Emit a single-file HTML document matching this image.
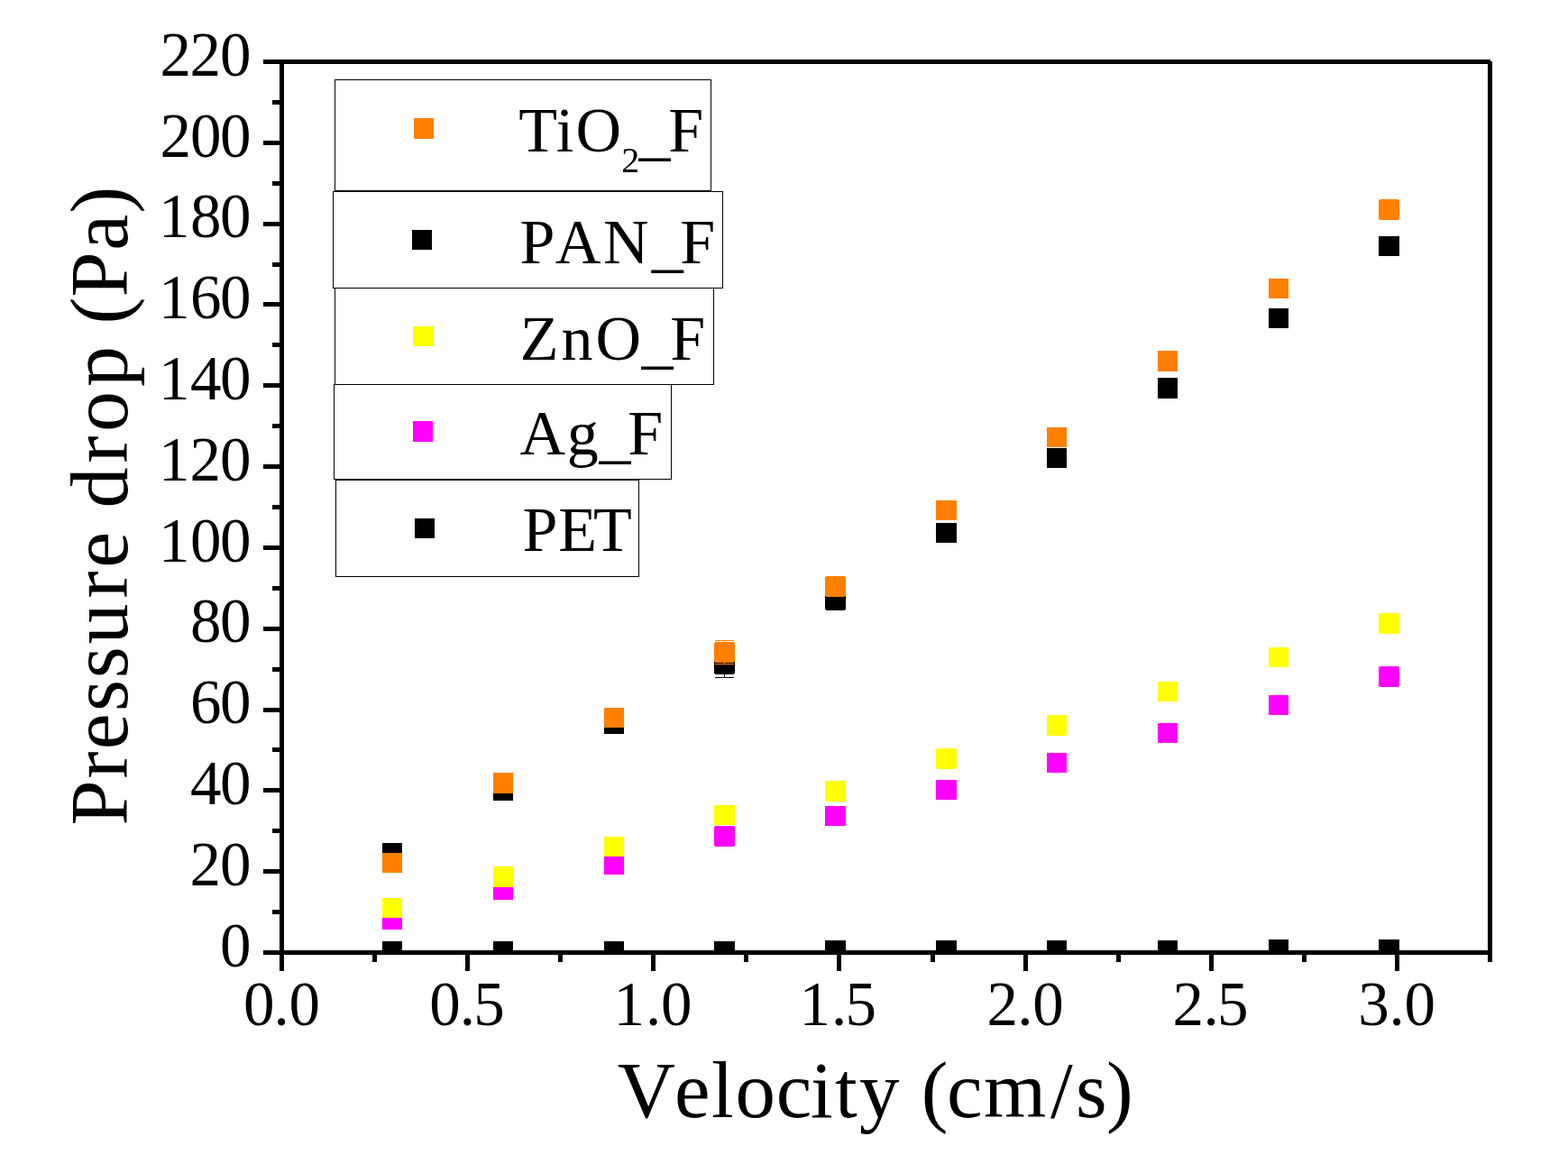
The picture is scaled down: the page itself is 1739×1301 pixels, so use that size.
<!DOCTYPE html>
<html lang="en"><head><meta charset="utf-8"><title>Pressure drop vs. Velocity</title>
<style>
html,body{margin:0;padding:0;background:#fff;}
body{width:1739px;height:1301px;overflow:hidden;}
svg{display:block;}
text{font-family:"Liberation Serif", "DejaVu Serif", serif;fill:#000;font-kerning:none;}
.ax{fill:#000;shape-rendering:crispEdges;}
.mk{shape-rendering:crispEdges;}
.lg{fill:#fff;stroke:#000;stroke-width:1;shape-rendering:crispEdges;}
</style></head><body>
<svg width="1739" height="1301" viewBox="0 0 1739 1301">
<rect x="0" y="0" width="1739" height="1301" fill="#fff"/>
<g id="legend-boxes">
<rect class="lg" x="371.5" y="88.5" width="417" height="123"/>
<rect class="lg" x="369.5" y="212.5" width="432" height="107"/>
<rect class="lg" x="371.5" y="319.5" width="420" height="107"/>
<rect class="lg" x="370.5" y="426.5" width="374" height="105"/>
<rect class="lg" x="372.5" y="532.5" width="336" height="107"/>
</g>
<g id="series-PET" class="mk" fill="#000000">
<rect x="424" y="1044" width="22" height="12"/>
<rect x="547" y="1044" width="22" height="12"/>
<rect x="670" y="1044" width="22" height="12"/>
<rect x="792" y="1044" width="23" height="12"/>
<rect x="915" y="1043" width="23" height="13"/>
<rect x="1038" y="1043" width="23" height="13"/>
<rect x="1161" y="1043" width="22" height="13"/>
<rect x="1284" y="1043" width="22" height="13"/>
<rect x="1407" y="1042" width="22" height="14"/>
<rect x="1529" y="1042" width="23" height="14"/>
</g>
<g id="series-Ag" class="mk" fill="#ff00ff">
<rect x="424" y="1009" width="22" height="22"/>
<rect x="547" y="976" width="22" height="22"/>
<rect x="670" y="948" width="22" height="22"/>
<path d="M793 916h21v1h1v21h-1v1h-21v-1h-1v-21h1z"/>
<rect x="915" y="894" width="23" height="22"/>
<rect x="1038" y="865" width="23" height="22"/>
<rect x="1161" y="835" width="22" height="22"/>
<rect x="1284" y="802" width="22" height="22"/>
<rect x="1407" y="771" width="22" height="22"/>
<path d="M1530 739h21v1h1v21h-1v1h-21v-1h-1v-21h1z"/>
</g>
<g id="series-ZnO" class="mk" fill="#ffff00">
<rect x="424" y="996" width="22" height="22"/>
<rect x="547" y="961" width="22" height="23"/>
<rect x="670" y="928" width="22" height="22"/>
<rect x="792" y="893" width="23" height="22"/>
<path d="M916 866h21v1h1v21h-1v1h-21v-1h-1v-21h1z"/>
<path d="M1039 830h21v1h1v21h-1v1h-21v-1h-1v-21h1z"/>
<rect x="1161" y="793" width="22" height="23"/>
<rect x="1284" y="756" width="22" height="22"/>
<rect x="1407" y="718" width="22" height="22"/>
<path d="M1530 680h21v1h1v21h-1v1h-21v-1h-1v-21h1z"/>
</g>
<g id="series-PAN" class="mk" fill="#000000">
<rect x="424" y="935" width="22" height="22"/>
<rect x="547" y="866" width="22" height="22"/>
<rect x="670" y="792" width="22" height="22"/>
<rect x="803" y="721" width="1" height="31"/><rect x="793" y="751" width="21" height="1"/><rect x="793" y="721" width="21" height="1"/>
<path d="M793 725h21v1h1v21h-1v1h-21v-1h-1v-21h1z"/>
<path d="M916 654h21v1h1v21h-1v1h-21v-1h-1v-21h1z"/>
<rect x="1038" y="580" width="23" height="22"/>
<rect x="1161" y="497" width="22" height="22"/>
<rect x="1284" y="419" width="22" height="23"/>
<rect x="1407" y="342" width="22" height="22"/>
<rect x="1529" y="262" width="23" height="22"/>
</g>
<g id="series-TiO2" class="mk" fill="#ff8000">
<rect x="424" y="946" width="22" height="22"/>
<rect x="547" y="857" width="22" height="23"/>
<rect x="670" y="785" width="22" height="22"/>
<rect x="803" y="710" width="1" height="27"/><rect x="793" y="710" width="21" height="1"/>
<path d="M793 712h21v1h1v21h-1v1h-21v-1h-1v-21h1z"/>
<rect x="792" y="735" width="23" height="1" fill="#000"/><rect x="803" y="735" width="1" height="1"/><rect x="793" y="736" width="21" height="1"/>
<path d="M916 639h21v1h1v21h-1v1h-21v-1h-1v-21h1z"/>
<rect x="1038" y="555" width="23" height="22"/>
<rect x="1161" y="474" width="22" height="22"/>
<rect x="1284" y="389" width="22" height="23"/>
<rect x="1407" y="309" width="22" height="22"/>
<path d="M1530 221h21v1h1v21h-1v1h-21v-1h-1v-21h1z"/>
</g>
<g id="axes" class="ax">
<rect x="292" y="66" width="1361" height="5"/>
<rect x="292" y="1054" width="1363" height="5"/>
<rect x="310" y="66" width="5" height="1011"/>
<rect x="1650" y="68" width="5" height="999"/>
<rect x="302" y="1009" width="8" height="5"/>
<rect x="292" y="964" width="18" height="5"/>
<rect x="302" y="919" width="8" height="5"/>
<rect x="292" y="874" width="18" height="5"/>
<rect x="302" y="829" width="8" height="5"/>
<rect x="292" y="785" width="18" height="5"/>
<rect x="302" y="740" width="8" height="5"/>
<rect x="292" y="695" width="18" height="5"/>
<rect x="302" y="650" width="8" height="5"/>
<rect x="292" y="605" width="18" height="5"/>
<rect x="302" y="560" width="8" height="5"/>
<rect x="292" y="515" width="18" height="5"/>
<rect x="302" y="470" width="8" height="5"/>
<rect x="292" y="425" width="18" height="5"/>
<rect x="302" y="380" width="8" height="5"/>
<rect x="292" y="335" width="18" height="5"/>
<rect x="302" y="291" width="8" height="5"/>
<rect x="292" y="246" width="18" height="5"/>
<rect x="302" y="201" width="8" height="5"/>
<rect x="292" y="156" width="18" height="5"/>
<rect x="302" y="111" width="8" height="5"/>
<rect x="413" y="1059" width="5" height="8"/>
<rect x="516" y="1059" width="5" height="18"/>
<rect x="619" y="1059" width="5" height="8"/>
<rect x="722" y="1059" width="5" height="18"/>
<rect x="825" y="1059" width="5" height="8"/>
<rect x="928" y="1059" width="5" height="18"/>
<rect x="1032" y="1059" width="5" height="8"/>
<rect x="1135" y="1059" width="5" height="18"/>
<rect x="1238" y="1059" width="5" height="8"/>
<rect x="1341" y="1059" width="5" height="18"/>
<rect x="1444" y="1059" width="5" height="8"/>
<rect x="1547" y="1059" width="5" height="18"/>
</g>
<g id="y-tick-labels" font-size="69">
<text x="244" y="1071.7">0</text>
<text x="210.6 244" y="981.9">20</text>
<text x="211 244" y="892.1">40</text>
<text x="211 244" y="802.2">60</text>
<text x="211 244" y="712.4">80</text>
<text x="176 211 244" y="622.6">100</text>
<text x="176 210.6 244" y="532.8">120</text>
<text x="176 211 244" y="443">140</text>
<text x="176 211 244" y="353.2">160</text>
<text x="176 211 244" y="263.3">180</text>
<text x="177.6 211 244" y="173.5">200</text>
<text x="177.6 210.6 244" y="83.7">220</text>
</g>
<g id="x-tick-labels" font-size="69">
<text x="270.1 303.5 320.6" y="1137.2">0.0</text>
<text x="476.3 509.7 525.3" y="1137.2">0.5</text>
<text x="680.4 715.9 732.9" y="1137.2">1.0</text>
<text x="886.6 922 937.6" y="1137.2">1.5</text>
<text x="1094.4 1128.2 1145.3" y="1137.2">2.0</text>
<text x="1300.5 1334.4 1349.9" y="1137.2">2.5</text>
<text x="1506.3 1540.5 1557.6" y="1137.2">3.0</text>
</g>
<text id="x-title" font-size="89" x="684.8 748 789.1 815.4 860.7 898.9 926.1 953 997.5 1021.8 1049.9 1091 1165 1193 1227.1" y="1238.6">Velocity (cm/s)</text>
<text id="y-title" font-size="90" transform="translate(141.2,916) rotate(-90)" x="0.4 52.5 84.7 126.9 163.8 201.5 252.5 286.3 326.2 352.6 402.5 436.9 486.9 531.9 556.4 586.6 638.2 679.2" y="0">Pressure drop (Pa)</text>
<g id="legend" font-size="70">
<rect class="mk" x="459" y="131" width="22" height="23" fill="#ff8000"/>
<text><tspan x="575.2 616.8 638.4" y="168 168 168">TiO</tspan><tspan font-size="40" x="689.2" y="190.8">2</tspan><tspan x="708.5 741.3" y="169.8 168">_F</tspan></text>
<rect class="mk" x="457" y="255" width="22" height="22" fill="#000000"/>
<text><tspan x="576.4 615.7 669.1 722.7 754.3" y="291.7 291.7 291.7 293.5 291.7">PAN_F</tspan></text>
<rect class="mk" x="458" y="362" width="23" height="22" fill="#ffff00"/>
<text><tspan x="576.8 622.4 660.4 711.5 743.2" y="399.3 399.3 399.3 401.1 399.3">ZnO_F</tspan></text>
<rect class="mk" x="458" y="467" width="22" height="23" fill="#ff00ff"/>
<text><tspan x="576.5 628.8 664.4 696.2" y="504 504 505.8 504">Ag_F</tspan></text>
<rect class="mk" x="460" y="575" width="22" height="22" fill="#000000"/>
<text><tspan x="579.4 619.3 658.1" y="610.7 610.7 610.7">PET</tspan></text>
</g>
</svg>
</body></html>
